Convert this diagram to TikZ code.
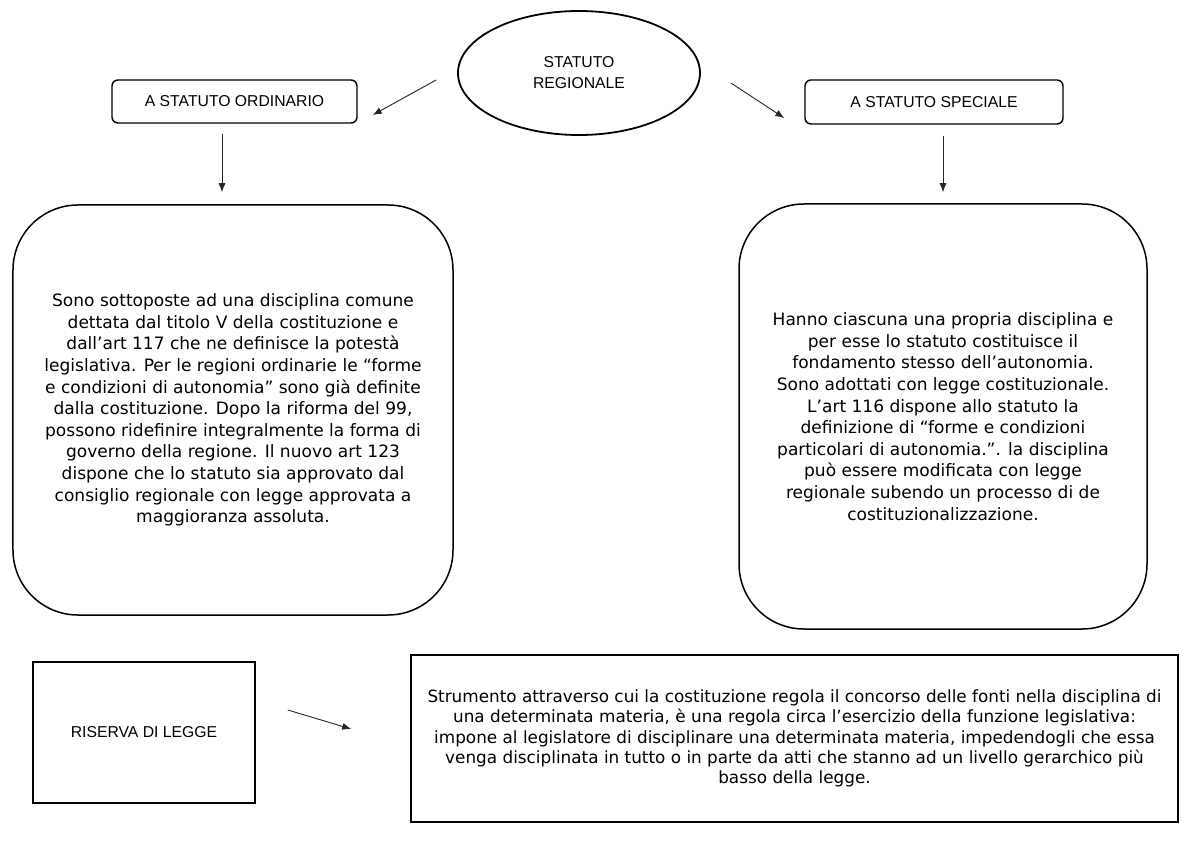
\documentclass[tikz,border=0pt]{standalone}
\usepackage{fontspec}
\setmainfont{DejaVu Sans}
\newfontfamily\labfont{Liberation Sans}
\usetikzlibrary{shapes.geometric,arrows.meta}
\tikzset{
  lab/.style={font=\labfont\fontsize{15.8}{21}\selectfont, align=center, inner sep=0pt},
  smallbox/.style={draw, line width=1.4bp, rounded corners=6bp, lab},
  bigbox/.style={draw, line width=1.5bp, rounded corners=65bp, align=center, inner sep=0pt,
    font=\fontsize{17.1}{21.7}\selectfont},
  plainbox/.style={draw, line width=1.5bp, inner sep=0pt, align=center},
  conn/.style={draw=black!85, line width=0.9bp, -{Latex[length=9bp,width=7bp]}},
}
\begin{document}
\begin{tikzpicture}[x=1bp,y=-1bp]
\useasboundingbox[fill=white] (0,0) rectangle (1200,848);
\node[ellipse, draw, line width=1.8bp, minimum width=242bp, minimum height=124bp, lab] (ell) at (579,73) {STATUTO\\REGIONALE};
\node[smallbox, minimum width=245bp, minimum height=43bp] (ord) at (234.5,101.5) {A STATUTO ORDINARIO};
\node[smallbox, minimum width=258bp, minimum height=44bp] (spe) at (934,102) {A STATUTO SPECIALE};
\node[bigbox, minimum width=440bp, minimum height=410bp] (lbox) at (233,410) {Sono sottoposte ad una disciplina comune\\
dettata dal titolo V della costituzione e\\
dall’art 117 che ne definisce la potestà\\
legislativa. Per le regioni ordinarie le “forme\\
e condizioni di autonomia” sono già definite\\
dalla costituzione. Dopo la riforma del 99,\\
possono ridefinire integralmente la forma di\\
governo della regione. Il nuovo art 123\\
dispone che lo statuto sia approvato dal\\
consiglio regionale con legge approvata a\\
maggioranza assoluta.};
\node[bigbox, minimum width=408bp, minimum height=425bp] (rbox) at (943,416.5) {Hanno ciascuna una propria disciplina e\\
per esse lo statuto costituisce il\\
fondamento stesso dell’autonomia.\\
Sono adottati con legge costituzionale.\\
L’art 116 dispone allo statuto la\\
definizione di “forme e condizioni\\
particolari di autonomia.”. la disciplina\\
può essere modificata con legge\\
regionale subendo un processo di de\\
costituzionalizzazione.};
\node[plainbox, lab, minimum width=222bp, minimum height=141bp] (ris) at (144,732.5) {RISERVA DI LEGGE};
\node[plainbox, minimum width=767bp, minimum height=167bp, font=\fontsize{16.9}{20.5}\selectfont] (def) at (794.5,738.5) {Strumento attraverso cui la costituzione regola il concorso delle fonti nella disciplina di\\
una determinata materia, è una regola circa l’esercizio della funzione legislativa:\\
impone al legislatore di disciplinare una determinata materia, impedendogli che essa\\
venga disciplinata in tutto o in parte da atti che stanno ad un livello gerarchico più\\
basso della legge.};
\draw[conn] ([shift={(-21,7)}]ell.west) -- ([shift={(15,13.5)}]ord.east);
\draw[conn] ([shift={(30,10)}]ell.east) -- ([shift={(-20,16)}]spe.west);
\draw[conn] ([shift={(-12.5,10)}]ord.south) -- ([shift={(-11,-12)}]lbox.north);
\draw[conn] ([shift={(9,11)}]spe.south) -- ([shift={(0,-11)}]rbox.north);
\draw[conn] ([shift={(32,-22.5)}]ris.east) -- ([shift={(-59,-9.5)}]def.west);
\end{tikzpicture}
\end{document}
